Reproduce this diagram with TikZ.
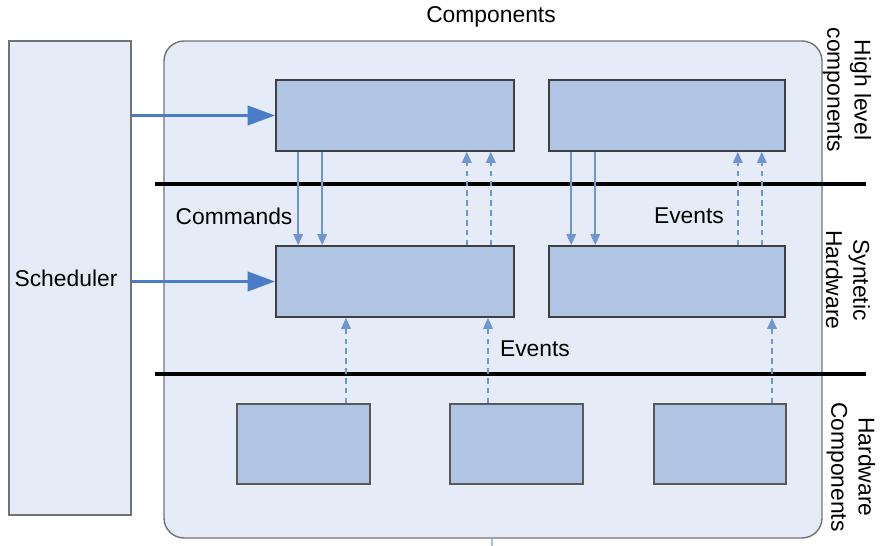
\documentclass[tikz,border=0pt]{standalone}
\usepackage{fontspec}
\setmainfont{Liberation Sans}
\usepackage{tikz}
\usetikzlibrary{positioning,arrows.meta,calc}

\definecolor{paleblue}{HTML}{E6ECF7}
\definecolor{boxblue}{HTML}{B0C4E3}
\definecolor{arrowblue}{HTML}{4A7CC8}
\definecolor{thinblue}{HTML}{6E96D2}

\begin{document}
\begin{tikzpicture}[x=0.02cm, y=-0.02cm,
	font=\fontsize{13}{15.5}\selectfont,
	outerbox/.style={rectangle, draw=black!55, fill=paleblue, line width=0.8pt, inner sep=0pt},
	compbox/.style={rectangle, draw=black!75, fill=boxblue, line width=0.9pt, inner sep=0pt, minimum height=71*0.02cm},
	hwbox/.style={rectangle, draw=black!65, fill=boxblue, line width=0.8pt, inner sep=0pt, minimum width=133*0.02cm, minimum height=80*0.02cm},
	sidelabel/.style={rotate=-90, align=center, inner sep=0pt},
	callarrow/.style={draw=arrowblue, line width=2.2pt, -{Triangle[length=5.5mm, width=3.8mm]}},
	cmdarrow/.style={draw=thinblue, line width=0.9pt, -{Triangle[length=2.2mm, width=1.9mm]}},
	evtarrow/.style={draw=thinblue, line width=0.9pt, dash pattern=on 3.2pt off 2.4pt, -{Triangle[length=2.2mm, width=1.9mm]}},
	layerline/.style={black, line width=2pt},
	]
	\useasboundingbox (0,0) rectangle (883,546);

	%Nodes
	\node[outerbox, minimum width=122*0.02cm, minimum height=474*0.02cm] (sched) at (70,278) {};
	\node at (66,278) (schedtext) {Scheduler};
	\node[outerbox, rounded corners=0.4cm, minimum width=658*0.02cm, minimum height=497*0.02cm] (comp) at (493,289.5) {};
	\node (comptitle) at (491,17) {Components};

	\node[compbox, minimum width=238*0.02cm] (hl1) at (395,115.5) {};
	\node[compbox, minimum width=236*0.02cm] (hl2) at (667,115.5) {};
	\node[compbox, minimum width=238*0.02cm] (sh1) at (395,281.5) {};
	\node[compbox, minimum width=236*0.02cm] (sh2) at (667,281.5) {};
	\node[hwbox] (hw1) at (303.5,444) {};
	\node[hwbox] (hw2) at (516.5,444) {};
	\node[hwbox, minimum width=132*0.02cm] (hw3) at (720,444) {};

	\node (cmdlabel) at (234,216) {Commands};
	\node (evtlabel1) at (689,216) {Events};
	\node (evtlabel2) at (535,349) {Events};

	\node[sidelabel] (hllabel) at (847,90) {High level\\components};
	\node[sidelabel] (shlabel) at (848,280) {Syntetic\\Hardware};
	\node[sidelabel] (hwlabel) at (851,467) {Hardware\\Components};

	%Layer lines
	\draw[layerline] (155,184) -- (866,184);
	\draw[layerline] (155,374) -- (866,374);

	%Lines
	\draw[callarrow] (sched.east |- hl1.west) -- (hl1.west);
	\draw[callarrow] (sched.east |- sh1.west) -- (sh1.west);

	\foreach \top/\low in {hl1/sh1, hl2/sh2} {
		\draw[cmdarrow] ($(\top.south west)+(23,0)$) -- ($(\low.north west)+(23,0)$);
		\draw[cmdarrow] ($(\top.south west)+(47,0)$) -- ($(\low.north west)+(47,0)$);
		\draw[evtarrow] ($(\low.north east)+(-48,0)$) -- ($(\top.south east)+(-48,0)$);
		\draw[evtarrow] ($(\low.north east)+(-24,0)$) -- ($(\top.south east)+(-24,0)$);
	}

	\draw[evtarrow] ($(hw1.north)+(42.5,0)$) coordinate (e1) -- (e1 |- sh1.south);
	\draw[evtarrow] ($(hw2.north)+(-28.5,0)$) coordinate (e2) -- (e2 |- sh1.south);
	\draw[evtarrow] ($(hw3.north)+(52,0)$) coordinate (e3) -- (e3 |- sh2.south);

	\coordinate (stub) at (492,546);
	\draw[thinblue!60, line width=1pt] (stub |- comp.south) -- (stub);

\end{tikzpicture}
\end{document}
